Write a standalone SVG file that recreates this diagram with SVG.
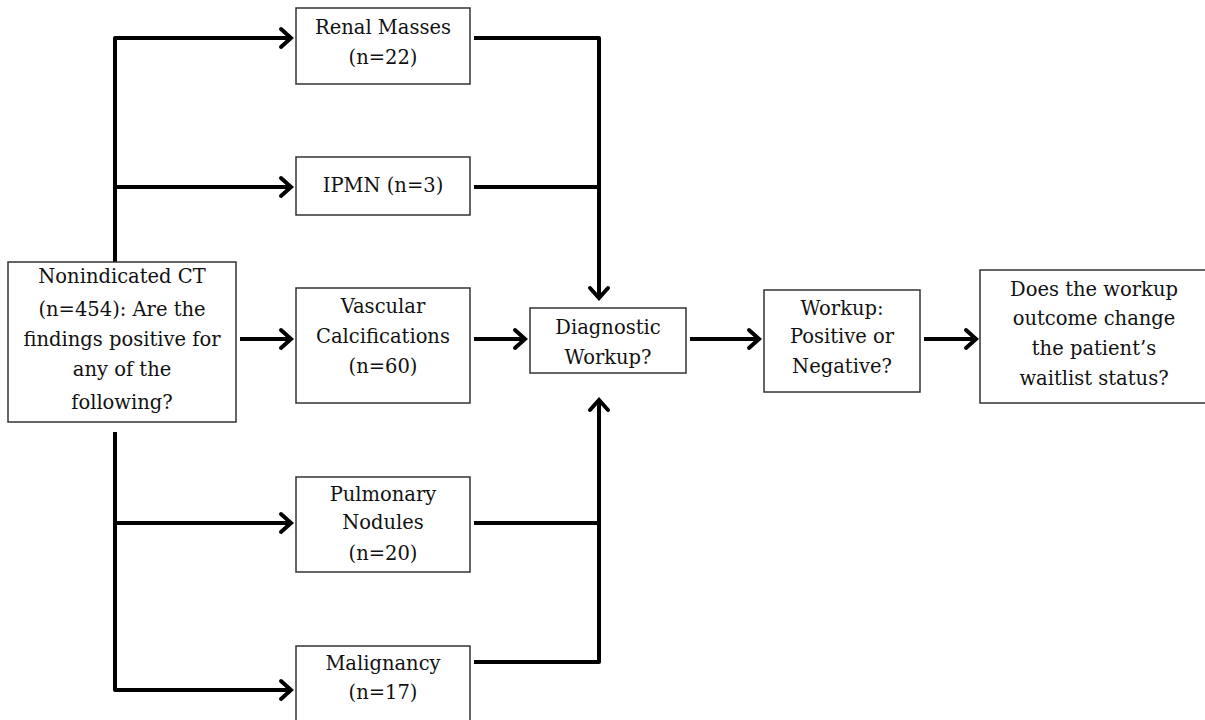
<svg xmlns="http://www.w3.org/2000/svg" width="1205" height="720" viewBox="0 0 1205 720">
<style>
.box{fill:#fff;stroke:#333;stroke-width:1.5}
.t{font-family:"DejaVu Serif","Liberation Serif",serif;font-size:19.5px;fill:#111;text-anchor:middle}
.c{fill:none;stroke:#000;stroke-width:4;stroke-linejoin:round}
</style>
<defs>
<marker id="ah" markerUnits="userSpaceOnUse" viewBox="0 0 16 24" markerWidth="16" markerHeight="24" refX="13" refY="12" orient="auto">
<path d="M3,3 L13,12 L3,21" fill="none" stroke="#000" stroke-width="4" stroke-linecap="round" stroke-linejoin="miter"/>
</marker>
</defs>
<rect width="1205" height="720" fill="#fff"/>
<g id="connectors">
<path class="c" d="M115,262 V38 H291" marker-end="url(#ah)"/>
<path class="c" d="M115,187 H291" marker-end="url(#ah)"/>
<path class="c" d="M115,432 V690 H291" marker-end="url(#ah)"/>
<path class="c" d="M115,523 H291" marker-end="url(#ah)"/>
<path class="c" d="M474,38 H599 V298" marker-end="url(#ah)"/>
<path class="c" d="M474,187 H599"/>
<path class="c" d="M474,662 H599 V400" marker-end="url(#ah)"/>
<path class="c" d="M474,523 H599"/>
<path class="c" d="M240,339 H291" marker-end="url(#ah)"/>
<path class="c" d="M474,339 H525" marker-end="url(#ah)"/>
<path class="c" d="M690,339 H759" marker-end="url(#ah)"/>
<path class="c" d="M924,339 H976" marker-end="url(#ah)"/>
</g>
<g id="ct">
<rect class="box" x="8" y="262" width="228" height="160"/>
<text class="t" x="122" y="283">Nonindicated CT</text>
<text class="t" x="122" y="316">(n=454): Are the</text>
<text class="t" x="122" y="346">findings positive for</text>
<text class="t" x="122" y="376">any of the</text>
<text class="t" x="122" y="409">following?</text>
</g>
<g id="renal">
<rect class="box" x="296" y="8" width="174" height="76"/>
<text class="t" x="383" y="34">Renal Masses</text>
<text class="t" x="383" y="64">(n=22)</text>
</g>
<g id="ipmn">
<rect class="box" x="296" y="157" width="174" height="58"/>
<text class="t" x="383" y="192">IPMN (n=3)</text>
</g>
<g id="vascular">
<rect class="box" x="296" y="288" width="174" height="115"/>
<text class="t" x="383" y="313">Vascular</text>
<text class="t" x="383" y="343">Calcifications</text>
<text class="t" x="383" y="373">(n=60)</text>
</g>
<g id="pulmonary">
<rect class="box" x="296" y="477" width="174" height="95"/>
<text class="t" x="383" y="501">Pulmonary</text>
<text class="t" x="383" y="529">Nodules</text>
<text class="t" x="383" y="560">(n=20)</text>
</g>
<g id="malignancy">
<rect class="box" x="296" y="646" width="174" height="80"/>
<text class="t" x="383" y="670">Malignancy</text>
<text class="t" x="383" y="699">(n=17)</text>
</g>
<g id="diagnostic">
<rect class="box" x="530" y="308" width="156" height="65"/>
<text class="t" x="608" y="334">Diagnostic</text>
<text class="t" x="608" y="364">Workup?</text>
</g>
<g id="workup">
<rect class="box" x="764" y="290" width="156" height="102"/>
<text class="t" x="842" y="315">Workup:</text>
<text class="t" x="842" y="343">Positive or</text>
<text class="t" x="842" y="373">Negative?</text>
</g>
<g id="outcome">
<rect class="box" x="980" y="270" width="230" height="133"/>
<text class="t" x="1094" y="296">Does the workup</text>
<text class="t" x="1094" y="325">outcome change</text>
<text class="t" x="1094" y="355">the patient’s</text>
<text class="t" x="1094" y="385">waitlist status?</text>
</g>
</svg>
